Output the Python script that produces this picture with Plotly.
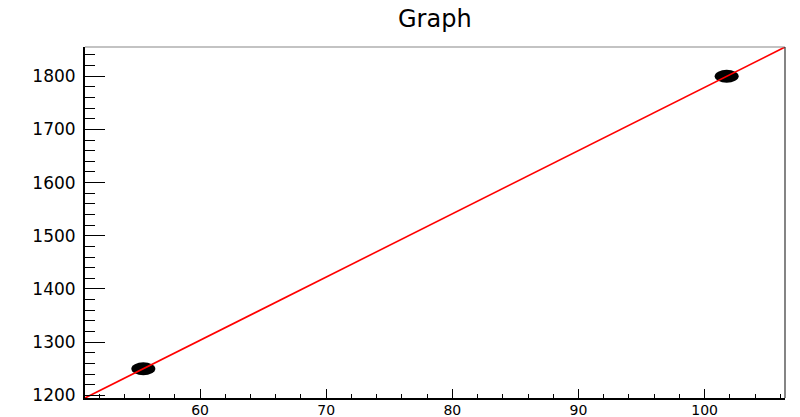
import numpy as np
import plotly.graph_objects as go

# graph points
x_vals = [55.5, 101.75]
y_vals = [1250, 1800]

title = "Graph"
x_ticks = [60, 70, 80, 90, 100]
y_ticks = [1200, 1300, 1400, 1500, 1600, 1700, 1800]

# ROOT-style axis range: 10% padding around the points
dx = max(x_vals) - min(x_vals)
dy = max(y_vals) - min(y_vals)
x_range = [min(x_vals) - 0.1 * dx, max(x_vals) + 0.1 * dx]
y_range = [min(y_vals) - 0.1 * dy, max(y_vals) + 0.1 * dy]

# linear fit drawn across the full x range
slope, intercept = np.polyfit(x_vals, y_vals, 1)
fit_x = np.array(x_range)
fit_y = slope * fit_x + intercept

fig = go.Figure()

fig.add_trace(go.Scatter(x=fit_x, y=fit_y, mode="lines",
                         line=dict(color="#ff0000", width=1.6),
                         showlegend=False, hoverinfo="skip", cliponaxis=False))
fig.add_trace(go.Scatter(x=x_vals, y=y_vals, mode="markers",
                         marker=dict(size=12, color="rgba(0,0,0,0)"),
                         showlegend=False))

# markers look stretched into ellipses in the original
for px, py in zip(x_vals, y_vals):
    fig.add_shape(type="circle", xref="x", yref="y",
                  xsizemode="pixel", ysizemode="pixel",
                  xanchor=px, yanchor=py,
                  x0=-12, x1=12, y0=-6.5, y1=6.5,
                  fillcolor="black", line=dict(color="black", width=0),
                  layer="below")

# top and right frame lines
fig.add_shape(type="line", xref="paper", yref="paper", x0=0, x1=1, y0=1, y1=1,
              line=dict(color="#888888", width=1.2))
fig.add_shape(type="line", xref="paper", yref="paper", x0=1, x1=1, y0=0, y1=1,
              line=dict(color="#333333", width=1.2))

y_font = dict(family="DejaVu Sans", size=17, color="black")
x_font = dict(family="DejaVu Sans", size=14, color="black")

fig.update_layout(
    width=800, height=417,
    margin=dict(l=85, r=15, t=47, b=19, autoexpand=False),
    paper_bgcolor="white", plot_bgcolor="white",
    title=dict(text=title, x=0.5435, xanchor="center", y=0.955, yanchor="middle",
               font=dict(family="DejaVu Sans", size=24, color="black")),
    xaxis=dict(range=x_range, tickvals=x_ticks, showgrid=False, zeroline=False,
               automargin=False,
               showline=True, linecolor="black", linewidth=2,
               ticks="inside", ticklen=9, tickwidth=1, tickcolor="black",
               minor=dict(dtick=2, ticks="inside", ticklen=4.5, tickcolor="black",
                          showgrid=False),
               tickfont=x_font, ticklabelstandoff=-2),
    yaxis=dict(range=y_range, tickvals=y_ticks, showgrid=False, zeroline=False,
               automargin=False,
               showline=True, linecolor="black", linewidth=2,
               ticks="inside", ticklen=20, tickwidth=1, tickcolor="black",
               minor=dict(dtick=20, ticks="inside", ticklen=10, tickcolor="black",
                          showgrid=False),
               tickfont=y_font, ticklabelstandoff=4),
)

# page body has a default 8px margin; drop it so the figure fills the window
fig.write_html("out.html", config={"displayModeBar": False},
               post_script="document.body.style.margin='0';")
